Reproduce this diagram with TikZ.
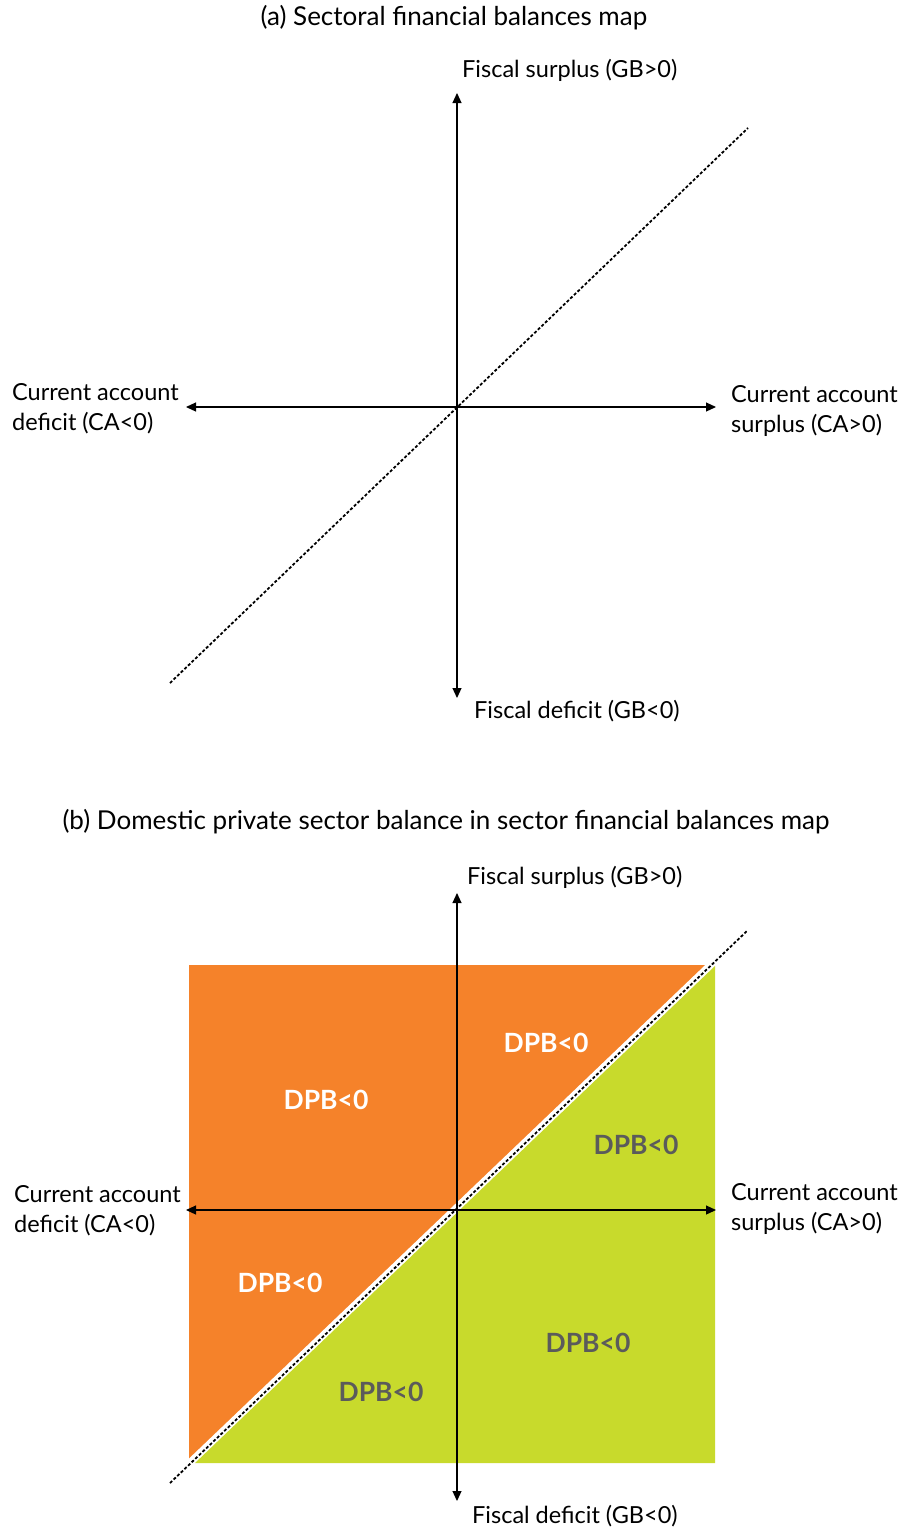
\documentclass[tikz,border=0pt]{standalone}
\usepackage{fontspec}
\setmainfont{Lato}
\usetikzlibrary{arrows.meta}
\definecolor{orng}{HTML}{F5822A}
\definecolor{grn}{HTML}{C8DA2C}
\definecolor{dgrey}{HTML}{5B5B5B}
\begin{document}
\begin{tikzpicture}[x=1pt,y=-1pt,
  axis/.style={line width=1.1pt,-{Triangle[length=10pt,width=9pt]}},
  diag/.style={line width=1.8pt,dash pattern=on 3pt off 2pt},
  lbl/.style={font=\fontsize{23.5}{30}\selectfont,inner sep=0pt},
  ttl/.style={font=\fontsize{26}{30}\selectfont,inner sep=0pt},
  dpbw/.style={font=\fontsize{26.5}{30}\selectfont\bfseries,text=white,inner sep=0pt},
  dpbg/.style={font=\fontsize{26.5}{30}\selectfont\bfseries,text=dgrey,inner sep=0pt}]
\useasboundingbox (0,0) rectangle (901,1535);
% ---------- (a)
\node[ttl] (ta) at (454,18) {(a) Sectoral financial balances map};
\coordinate (ca) at (457,407);
\coordinate (atop) at (457,93);
\coordinate (abot) at (457,698);
\coordinate (aleft) at (186,407);
\coordinate (aright) at (716,407);
\coordinate (ad1) at (170,683);
\coordinate (ad2) at (748,128);
\draw[diag] (ad1) -- (ad2);
\draw[axis] (ca) -- (atop);
\draw[axis] (ca) -- (abot);
\draw[axis] (ca) -- (aleft);
\draw[axis] (ca) -- (aright);
\node[lbl,anchor=west] (la1) at (462,70) {Fiscal surplus (GB>0)};
\node[lbl,anchor=west] (la2) at (474,711) {Fiscal deficit (GB<0)};
\node[lbl,anchor=west,align=left] (la3) at (12,409) {Current account\\deficit (CA<0)};
\node[lbl,anchor=west,align=left] (la4) at (731,411) {Current account\\surplus (CA>0)};
% ---------- (b)
\node[ttl] (tb) at (446,822) {(b) Domestic private sector balance in sector financial balances map};
\coordinate (cb) at (457,1210);
\coordinate (btop) at (457,893);
\coordinate (bbot) at (457,1501);
\coordinate (bleft) at (186,1210);
\coordinate (bright) at (716,1210);
\coordinate (bd1) at (170,1483);
\coordinate (bd2) at (748,930);
\fill[orng] (189,965) -- (709,965) -- (189,1462) -- cycle;
\fill[grn] (715,966) -- (715,1463) -- (195,1463) -- cycle;
\draw[white,line width=5pt] (189,1462) -- (712,962);
\draw[diag] (bd1) -- (bd2);
\draw[axis] (cb) -- (btop);
\draw[axis] (cb) -- (bbot);
\draw[axis] (cb) -- (bleft);
\draw[axis] (cb) -- (bright);
\node[lbl,anchor=west] (lb1) at (467,877) {Fiscal surplus (GB>0)};
\node[lbl,anchor=west] (lb2) at (472,1516) {Fiscal deficit (GB<0)};
\node[lbl,anchor=west,align=left] (lb3) at (14,1211) {Current account\\deficit (CA<0)};
\node[lbl,anchor=west,align=left] (lb4) at (731,1209) {Current account\\surplus (CA>0)};
\node[dpbw] (d1) at (546,1043) {DPB<0};
\node[dpbw] (d2) at (326,1100) {DPB<0};
\node[dpbg] (d3) at (636,1145) {DPB<0};
\node[dpbw] (d4) at (280,1283) {DPB<0};
\node[dpbg] (d5) at (588,1343) {DPB<0};
\node[dpbg] (d6) at (381,1392) {DPB<0};
\end{tikzpicture}
\end{document}
